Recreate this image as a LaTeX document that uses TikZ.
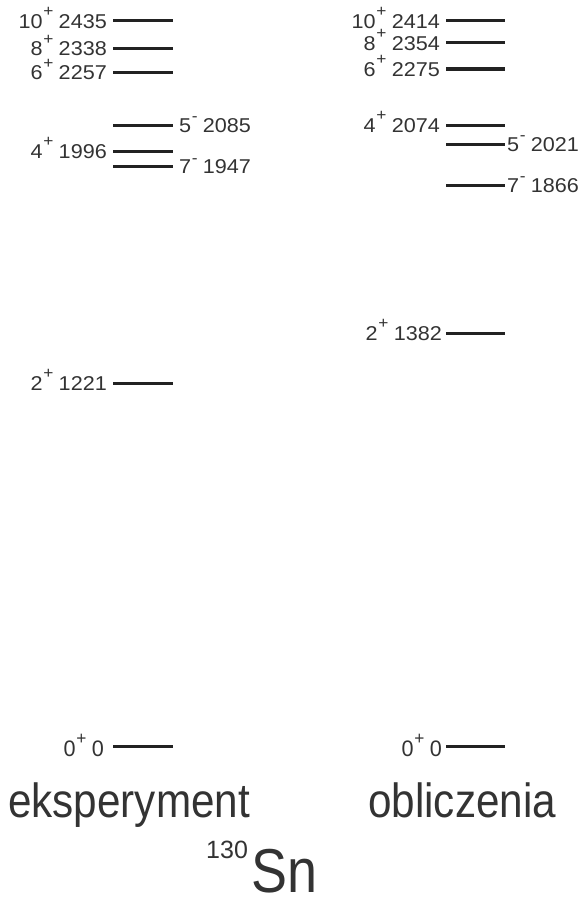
\documentclass[tikz,border=0pt]{standalone}
\usepackage{fontspec}
\setmainfont{Liberation Sans}
\usepackage{graphicx}
\definecolor{txt}{HTML}{333333}
\definecolor{lvl}{HTML}{222222}
\newcommand\jp[3]{\scalebox{1.08}[1]{#1\hspace{0.5pt}\raisebox{#3}{\fontsize{16}{16}\selectfont #2}\hspace{5pt}}}
\newcommand\jpp[2]{\jp{#1}{+}{11.5pt}\scalebox{1.08}[1]{#2}}
\newcommand\jpm[2]{\jp{#1}{-}{10.5pt}\scalebox{1.08}[1]{#2}}
\begin{document}
\begin{tikzpicture}[x=1pt,y=-1pt,
  level/.style={draw=lvl,line width=3pt},
  lab/.style={inner sep=0pt,text=txt,font=\fontsize{20}{20}\selectfont,text height=14.3pt,text depth=0pt},
  llab/.style={lab,anchor=east},
  rlab/.style={lab,anchor=west},
  zlab/.style={llab,font=\fontsize{20}{20}\selectfont,text height=16pt,yscale=1.12},
  big/.style={inner sep=0pt,text=txt,font=\fontsize{48}{48}\selectfont,anchor=base west}]
\useasboundingbox (0,0) rectangle (584,899);
% experiment
\foreach \n/\y in {e10/21,e8/48.5,e6/72.7,e5/125,e4/151,e7/166.7,e2/383,e0/746}{
  \coordinate (\n a) at (113,\y); \coordinate (\n b) at (173,\y);
  \draw[level] (\n a) -- (\n b);}
\node[llab] (le10) at ([xshift=-6pt]e10a) {\jpp{10}{2435}};
\node[llab] (le8) at ([xshift=-6pt]e8a) {\jpp{8}{2338}};
\node[llab] (le6) at ([xshift=-6pt]e6a) {\jpp{6}{2257}};
\node[rlab] (le5) at ([xshift=6pt]e5b) {\jpm{5}{2085}};
\node[llab] (le4) at ([xshift=-6pt]e4a) {\jpp{4}{1996}};
\node[rlab] (le7) at ([xshift=6pt]e7b) {\jpm{7}{1947}};
\node[llab] (le2) at ([xshift=-6pt]e2a) {\jpp{2}{1221}};
\node[zlab] (le0) at ([xshift=-9pt,yshift=-2pt]e0a) {\jpp{0}{0}};
% calculation
\foreach \n/\y in {c10/21,c8/43,c6/69,c4/125,c5/144,c7/185,c2/333,c0/746}{
  \coordinate (\n a) at (446,\y); \coordinate (\n b) at (505,\y);
  \draw[level] (\n a) -- (\n b);}
\node[llab] (lc10) at ([xshift=-6pt]c10a) {\jpp{10}{2414}};
\node[llab] (lc8) at ([xshift=-6pt]c8a) {\jpp{8}{2354}};
\node[llab] (lc6) at ([xshift=-6pt]c6a) {\jpp{6}{2275}};
\node[llab] (lc4) at ([xshift=-6pt]c4a) {\jpp{4}{2074}};
\node[rlab] (lc5) at ([xshift=2pt]c5b) {\jpm{5}{2021}};
\node[rlab] (lc7) at ([xshift=2pt]c7b) {\jpm{7}{1866}};
\node[llab] (lc2) at ([xshift=-4pt]c2a) {\jpp{2}{1382}};
\node[zlab] (lc0) at ([xshift=-4pt,yshift=-2pt]c0a) {\jpp{0}{0}};
% titles
\node[big] (exp) at (8,817) {\scalebox{0.88}[1]{eksperyment}};
\node[big] (obl) at (368,817) {\scalebox{0.88}[1]{obliczenia}};
\node[inner sep=0pt,text=txt,anchor=base west,font=\fontsize{62}{62}\selectfont] (sn) at (206,892) {\raisebox{34pt}{\fontsize{25}{25}\selectfont 130}\hspace{4pt}\scalebox{0.87}[1]{Sn}};
\end{tikzpicture}
\end{document}
